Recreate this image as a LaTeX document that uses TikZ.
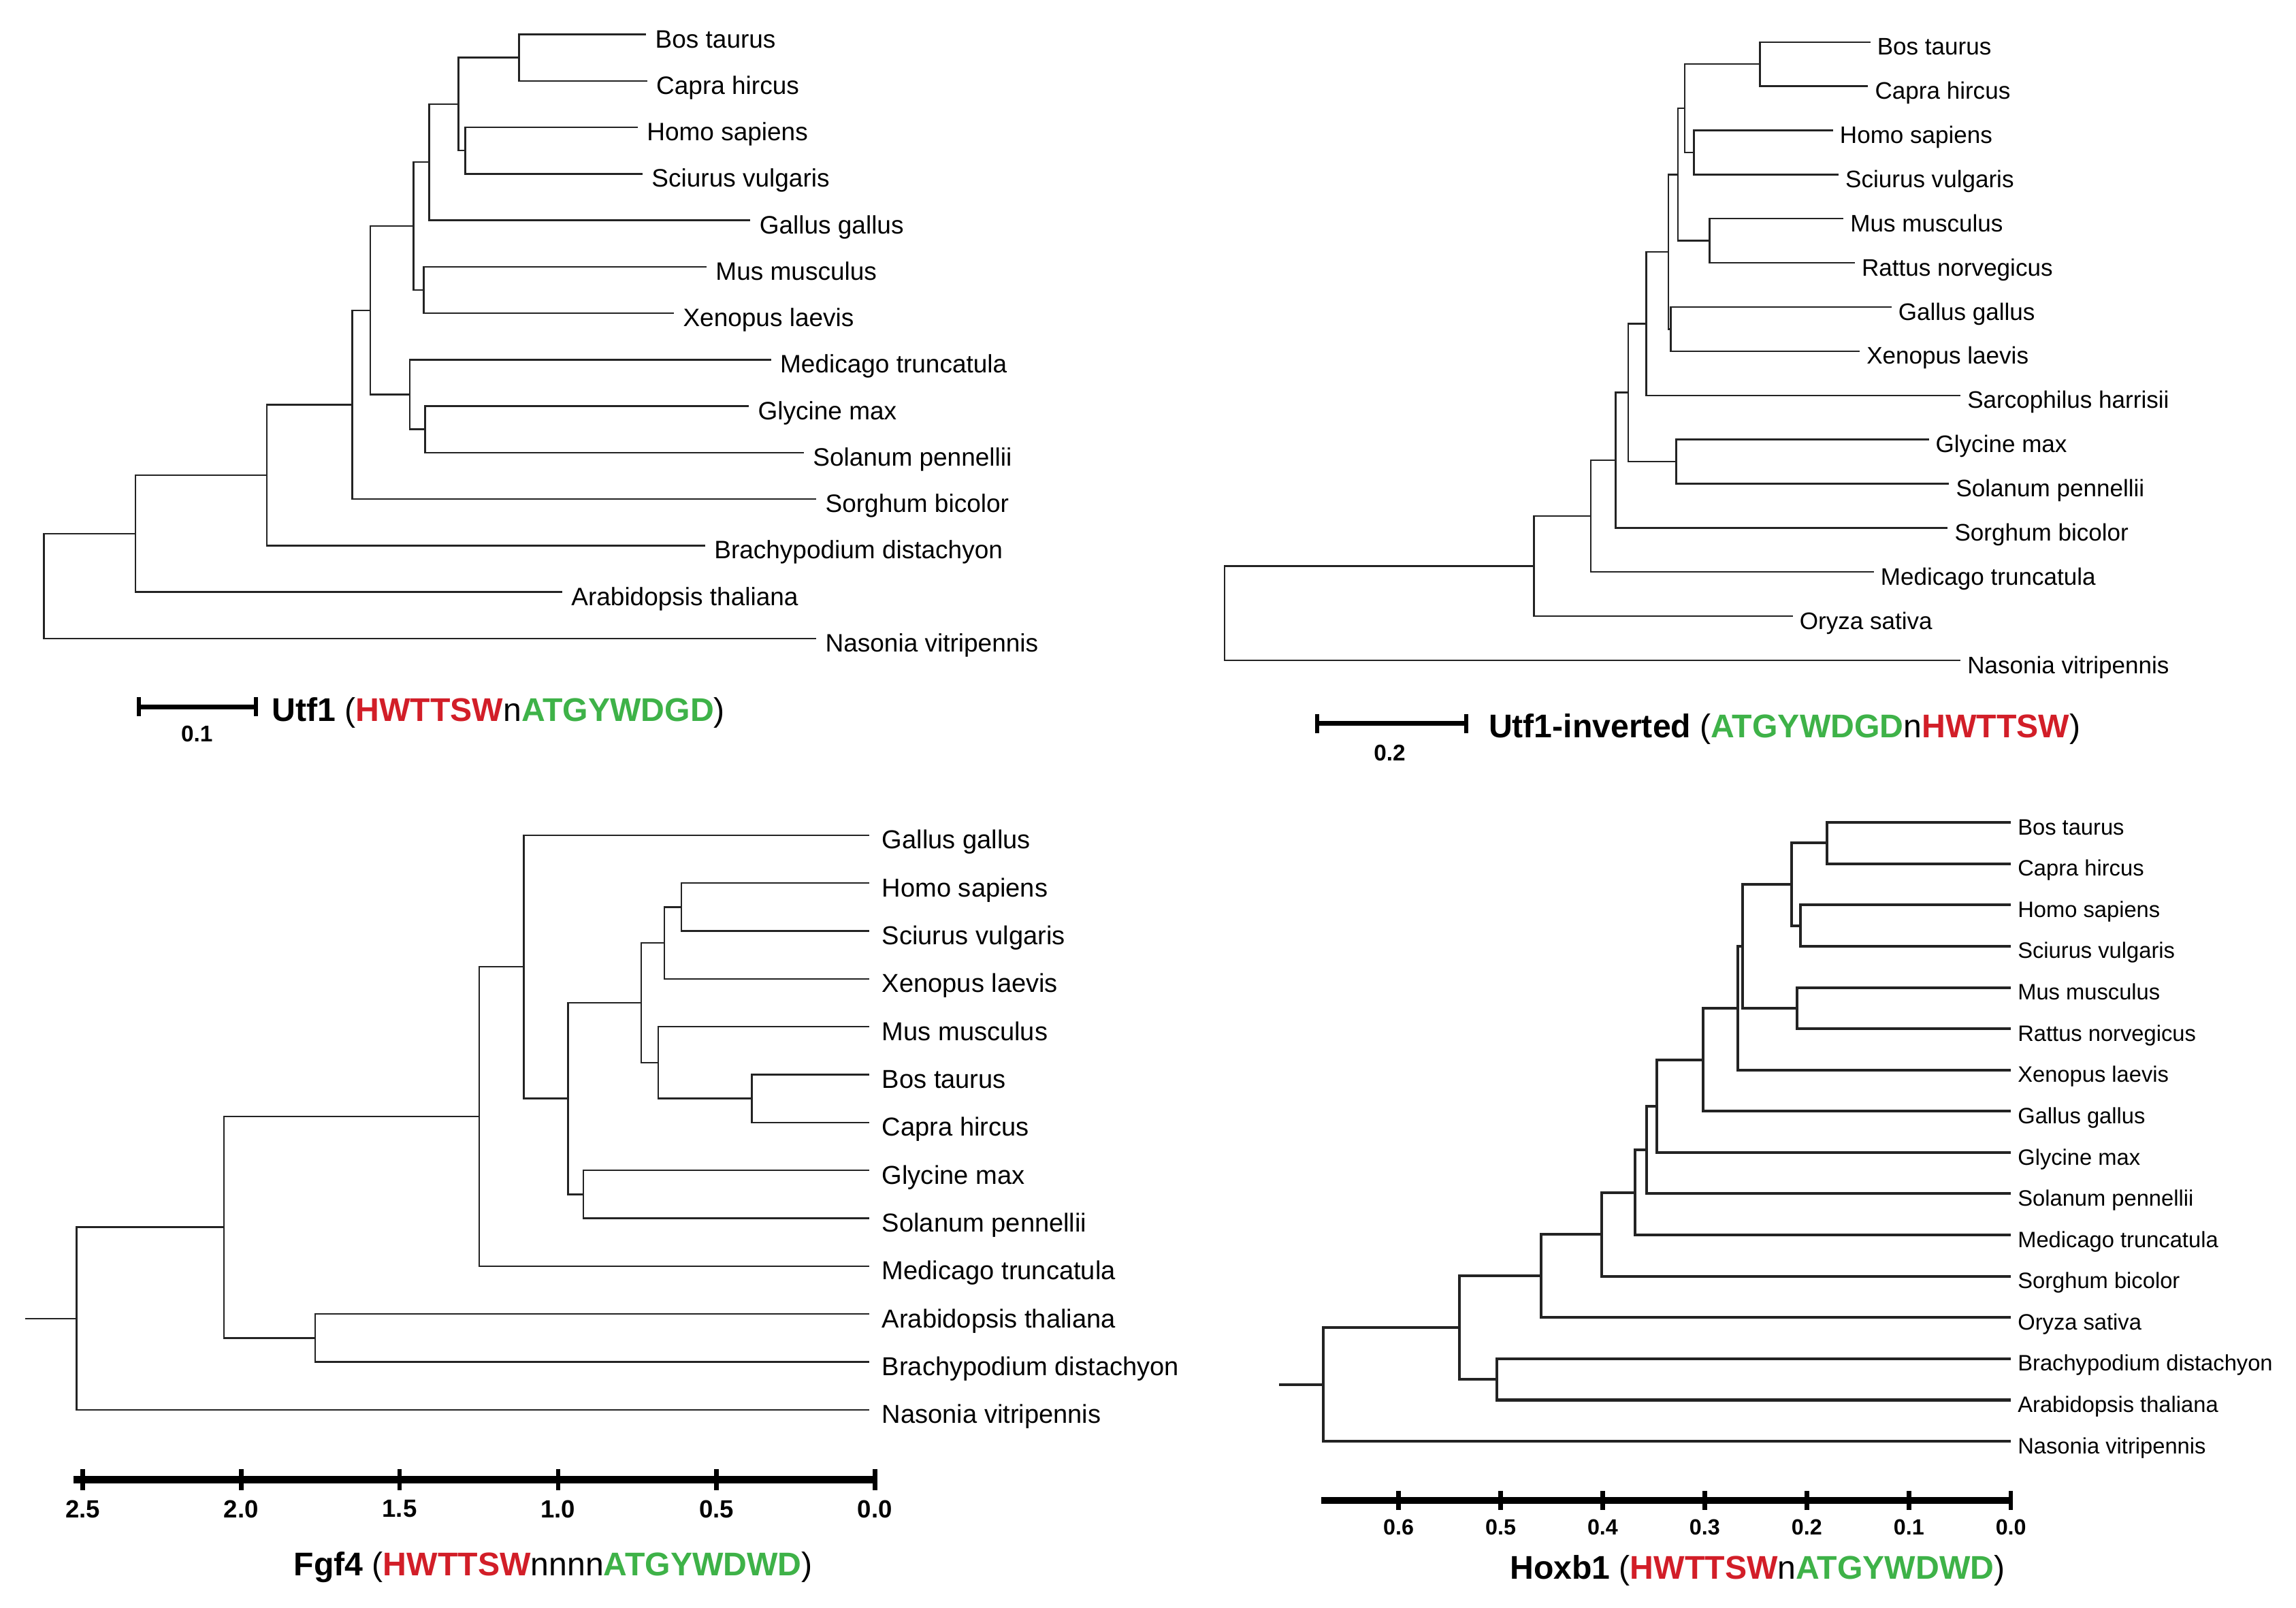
\documentclass[tikz,border=0pt]{standalone}
\usepackage{fontspec}
\setmainfont{Liberation Sans}
\definecolor{motifred}{RGB}{210,30,40}
\definecolor{motifgreen}{RGB}{62,178,72}
\definecolor{branch}{RGB}{35,35,35}
\begin{document}
\begin{tikzpicture}[x=1pt,y=-1pt,
  leafbase/.style={anchor=west, inner sep=0pt, text depth=0pt},
  leafA/.style={leafbase, font=\fontsize{17.2}{20}\selectfont, text height=18.2pt},
  leafB/.style={leafbase, font=\fontsize{16.3}{19}\selectfont, text height=17.6pt},
  leafC/.style={leafbase, font=\fontsize{17.7}{20}\selectfont, text height=18.6pt},
  leafD/.style={leafbase, font=\fontsize{15.2}{18}\selectfont, text height=16.8pt},
  edgeT/.style={draw=branch, line width=1.15pt},
  edgeK/.style={draw=branch, line width=1.9pt},
  tipA/.style={edgeT, shorten >=6pt},
  tipB/.style={edgeT, shorten >=4.5pt},
  tipC/.style={edgeT, shorten >=8.5pt},
  tipD/.style={edgeK, shorten >=4.5pt},
  titlelab/.style={anchor=base west, inner sep=0pt, font=\fontsize{22.4}{26}\selectfont},
  sbbar/.style={draw=black, line width=3.4pt},
  sbtick/.style={draw=black, line width=2.8pt},
  axbar/.style={draw=black, line width=5pt},
  axtick/.style={draw=black, line width=3pt},
  sblab/.style={inner sep=0pt, font=\fontsize{15.5}{18}\selectfont\bfseries},
  axlabC/.style={inner sep=0pt, font=\fontsize{17}{19}\selectfont\bfseries},
  axlabD/.style={inner sep=0pt, font=\fontsize{15}{17}\selectfont\bfseries}
]
\fill[white] (0,0) rectangle (1568,1098);
\useasboundingbox (0,0) rectangle (1568,1098);

%% ---------------- Tree 1: Utf1 ----------------
\node[leafA] (aBos) at (447.3,23.5) {Bos taurus};
\node[leafA] (aCap) at (448.0,55.2) {Capra hircus};
\node[leafA] (aHom) at (441.6,87.0) {Homo sapiens};
\node[leafA] (aSci) at (444.9,118.7) {Sciurus vulgaris};
\node[leafA] (aGal) at (518.5,150.4) {Gallus gallus};
\node[leafA] (aMus) at (488.6,182.2) {Mus musculus};
\node[leafA] (aXen) at (466.3,213.9) {Xenopus laevis};
\node[leafA] (aMed) at (532.6,245.6) {Medicago truncatula};
\node[leafA] (aGly) at (517.5,277.3) {Glycine max};
\node[leafA] (aSol) at (555.0,309.1) {Solanum pennellii};
\node[leafA] (aSor) at (563.5,340.8) {Sorghum bicolor};
\node[leafA] (aBra) at (487.6,372.5) {Brachypodium distachyon};
\node[leafA] (aAra) at (390.0,404.3) {Arabidopsis thaliana};
\node[leafA] (aNas) at (563.5,436.0) {Nasonia vitripennis};
\coordinate (a1) at (354.4,39.35);
\coordinate (a2) at (317.8,102.85);
\coordinate (a3) at (313.1,71.1);
\coordinate (a4) at (293.2,110.75);
\coordinate (a5) at (289.4,198.05);
\coordinate (a6) at (282.3,154.4);
\coordinate (a7) at (290.3,293.2);
\coordinate (a8) at (279.9,269.4);
\coordinate (a9) at (252.9,211.9);
\coordinate (a10) at (240.5,276.35);
\coordinate (a11) at (182.2,324.4);
\coordinate (a12) at (92.5,364.35);
\coordinate (a13) at (29.9,400.2);
\draw[tipA] (a1) |- (aBos.west);
\draw[tipA] (a1) |- (aCap.west);
\draw[tipA] (a2) |- (aHom.west);
\draw[tipA] (a2) |- (aSci.west);
\draw[edgeT] (a3) |- (a1);
\draw[edgeT] (a3) |- (a2);
\draw[edgeT] (a4) |- (a3);
\draw[tipA] (a4) |- (aGal.west);
\draw[tipA] (a5) |- (aMus.west);
\draw[tipA] (a5) |- (aXen.west);
\draw[edgeT] (a6) |- (a4);
\draw[edgeT] (a6) |- (a5);
\draw[tipA] (a7) |- (aGly.west);
\draw[tipA] (a7) |- (aSol.west);
\draw[tipA] (a8) |- (aMed.west);
\draw[edgeT] (a8) |- (a7);
\draw[edgeT] (a9) |- (a6);
\draw[edgeT] (a9) |- (a8);
\draw[edgeT] (a10) |- (a9);
\draw[tipA] (a10) |- (aSor.west);
\draw[edgeT] (a11) |- (a10);
\draw[tipA] (a11) |- (aBra.west);
\draw[edgeT] (a12) |- (a11);
\draw[tipA] (a12) |- (aAra.west);
\draw[edgeT] (a13) |- (a12);
\draw[tipA] (a13) |- (aNas.west);
% scale bar
\coordinate (sb1L) at (94.9,482.6);
\coordinate (sb1R) at (174.6,482.6);
\draw[sbbar] (sb1L) -- (sb1R);
\draw[sbtick] ([yshift=-6.5pt]sb1L) -- ([yshift=6.5pt]sb1L);
\draw[sbtick] ([yshift=-6.5pt]sb1R) -- ([yshift=6.5pt]sb1R);
\node[sblab] (sb1lab) at (134.5,501) {0.1};
\node[titlelab] (title1) at (185.5,492.4) {\textbf{Utf1} (\textcolor{motifred}{\textbf{HWTTSW}}n\textcolor{motifgreen}{\textbf{ATGYWDGD}})};

%% ---------------- Tree 2: Utf1-inverted ----------------
\node[leafB] (bBos) at (1281.8,28.7) {Bos taurus};
\node[leafB] (bCap) at (1280.3,58.9) {Capra hircus};
\node[leafB] (bHom) at (1256.3,89.0) {Homo sapiens};
\node[leafB] (bSci) at (1260.1,119.2) {Sciurus vulgaris};
\node[leafB] (bMus) at (1263.5,149.3) {Mus musculus};
\node[leafB] (bRat) at (1271.2,179.5) {Rattus norvegicus};
\node[leafB] (bGal) at (1296.2,209.7) {Gallus gallus};
\node[leafB] (bXen) at (1274.6,239.8) {Xenopus laevis};
\node[leafB] (bSar) at (1343.4,270.0) {Sarcophilus harrisii};
\node[leafB] (bGly) at (1321.7,300.1) {Glycine max};
\node[leafB] (bSol) at (1335.6,330.3) {Solanum pennellii};
\node[leafB] (bSor) at (1334.7,360.5) {Sorghum bicolor};
\node[leafB] (bMed) at (1284.2,390.6) {Medicago truncatula};
\node[leafB] (bOry) at (1228.8,420.8) {Oryza sativa};
\node[leafB] (bNas) at (1343.4,451.0) {Nasonia vitripennis};
\coordinate (b1) at (1201.9,43.8);
\coordinate (b2) at (1156.7,104.1);
\coordinate (b3) at (1150.6,73.95);
\coordinate (b4) at (1167.5,164.4);
\coordinate (b5) at (1145.8,119.2);
\coordinate (b6) at (1140.9,224.75);
\coordinate (b7) at (1139.4,171.95);
\coordinate (b8) at (1124.2,220.98);
\coordinate (b9) at (1144.7,315.2);
\coordinate (b10) at (1111.9,268.1);
\coordinate (b11) at (1103.3,314.3);
\coordinate (b12) at (1086.4,352.45);
\coordinate (b13) at (1047.5,386.6);
\coordinate (b14) at (836.2,418.8);
\draw[tipB] (b1) |- (bBos.west);
\draw[tipB] (b1) |- (bCap.west);
\draw[tipB] (b2) |- (bHom.west);
\draw[tipB] (b2) |- (bSci.west);
\draw[edgeT] (b3) |- (b1);
\draw[edgeT] (b3) |- (b2);
\draw[tipB] (b4) |- (bMus.west);
\draw[tipB] (b4) |- (bRat.west);
\draw[edgeT] (b5) |- (b3);
\draw[edgeT] (b5) |- (b4);
\draw[tipB] (b6) |- (bGal.west);
\draw[tipB] (b6) |- (bXen.west);
\draw[edgeT] (b7) |- (b5);
\draw[edgeT] (b7) |- (b6);
\draw[edgeT] (b8) |- (b7);
\draw[tipB] (b8) |- (bSar.west);
\draw[tipB] (b9) |- (bGly.west);
\draw[tipB] (b9) |- (bSol.west);
\draw[edgeT] (b10) |- (b8);
\draw[edgeT] (b10) |- (b9);
\draw[edgeT] (b11) |- (b10);
\draw[tipB] (b11) |- (bSor.west);
\draw[edgeT] (b12) |- (b11);
\draw[tipB] (b12) |- (bMed.west);
\draw[edgeT] (b13) |- (b12);
\draw[tipB] (b13) |- (bOry.west);
\draw[edgeT] (b14) |- (b13);
\draw[tipB] (b14) |- (bNas.west);
% scale bar
\coordinate (sb2L) at (899.3,494.0);
\coordinate (sb2R) at (1001.3,494.0);
\draw[sbbar] (sb2L) -- (sb2R);
\draw[sbtick] ([yshift=-6.5pt]sb2L) -- ([yshift=6.5pt]sb2L);
\draw[sbtick] ([yshift=-6.5pt]sb2R) -- ([yshift=6.5pt]sb2R);
\node[sblab] (sb2lab) at (949,514) {0.2};
\node[titlelab] (title2) at (1016.5,503.5) {\textbf{Utf1-inverted} (\textcolor{motifgreen}{\textbf{ATGYWDGD}}n\textcolor{motifred}{\textbf{HWTTSW}})};

%% ---------------- Tree 3: Fgf4 ----------------
\node[leafC] (cGal) at (602.2,570.3) {Gallus gallus};
\node[leafC] (cHom) at (602.2,603.0) {Homo sapiens};
\node[leafC] (cSci) at (602.2,635.7) {Sciurus vulgaris};
\node[leafC] (cXen) at (602.2,668.4) {Xenopus laevis};
\node[leafC] (cMus) at (602.2,701.1) {Mus musculus};
\node[leafC] (cBos) at (602.2,733.8) {Bos taurus};
\node[leafC] (cCap) at (602.2,766.5) {Capra hircus};
\node[leafC] (cGly) at (602.2,799.2) {Glycine max};
\node[leafC] (cSol) at (602.2,831.9) {Solanum pennellii};
\node[leafC] (cMed) at (602.2,864.6) {Medicago truncatula};
\node[leafC] (cAra) at (602.2,897.3) {Arabidopsis thaliana};
\node[leafC] (cBra) at (602.2,930.0) {Brachypodium distachyon};
\node[leafC] (cNas) at (602.2,962.7) {Nasonia vitripennis};
\coordinate (c1) at (465.4,619.35);
\coordinate (c2) at (453.8,643.9);
\coordinate (c3) at (513.5,750.15);
\coordinate (c4) at (449.6,725.6);
\coordinate (c5) at (438.0,684.75);
\coordinate (c6) at (398.4,815.55);
\coordinate (c7) at (387.9,750.15);
\coordinate (c8) at (357.8,660.2);
\coordinate (c9) at (327.2,762.4);
\coordinate (c10) at (215.3,913.65);
\coordinate (c11) at (153.0,838.0);
\coordinate (c12) at (52.2,900.35);
\coordinate (c0) at (17.4,900.35);
\draw[tipC] (c1) |- (cHom.west);
\draw[tipC] (c1) |- (cSci.west);
\draw[edgeT] (c2) |- (c1);
\draw[tipC] (c2) |- (cXen.west);
\draw[tipC] (c3) |- (cBos.west);
\draw[tipC] (c3) |- (cCap.west);
\draw[tipC] (c4) |- (cMus.west);
\draw[edgeT] (c4) |- (c3);
\draw[edgeT] (c5) |- (c2);
\draw[edgeT] (c5) |- (c4);
\draw[tipC] (c6) |- (cGly.west);
\draw[tipC] (c6) |- (cSol.west);
\draw[edgeT] (c7) |- (c5);
\draw[edgeT] (c7) |- (c6);
\draw[tipC] (c8) |- (cGal.west);
\draw[edgeT] (c8) |- (c7);
\draw[edgeT] (c9) |- (c8);
\draw[tipC] (c9) |- (cMed.west);
\draw[tipC] (c10) |- (cAra.west);
\draw[tipC] (c10) |- (cBra.west);
\draw[edgeT] (c11) |- (c9);
\draw[edgeT] (c11) |- (c10);
\draw[edgeT] (c12) |- (c11);
\draw[tipC] (c12) |- (cNas.west);
\draw[edgeT] (c0) -- (c12);
% axis
\coordinate (ax3L) at (50.2,1010.4);
\coordinate (ax3R) at (598.9,1010.4);
\draw[axbar] (ax3L) -- (ax3R);
\foreach \xx/\ll [count=\i] in {56.5/2.5, 164.7/2.0, 272.9/1.5, 381.1/1.0, 489.3/0.5, 597.5/0.0}{
  \draw[axtick] (\xx,1003.2) -- (\xx,1017.6);
  \node[axlabC] (axC\i) at (\xx,1030.4) {\ll};
}
\node[titlelab] (title3) at (200.5,1076.0) {\textbf{Fgf4} (\textcolor{motifred}{\textbf{HWTTSW}}nnnn\textcolor{motifgreen}{\textbf{ATGYWDWD}})};

%% ---------------- Tree 4: Hoxb1 ----------------
\node[leafD] (dBos) at (1377.8,561.6) {Bos taurus};
\node[leafD] (dCap) at (1377.8,589.8) {Capra hircus};
\node[leafD] (dHom) at (1377.8,617.9) {Homo sapiens};
\node[leafD] (dSci) at (1377.8,646.1) {Sciurus vulgaris};
\node[leafD] (dMus) at (1377.8,674.3) {Mus musculus};
\node[leafD] (dRat) at (1377.8,702.5) {Rattus norvegicus};
\node[leafD] (dXen) at (1377.8,730.6) {Xenopus laevis};
\node[leafD] (dGal) at (1377.8,758.8) {Gallus gallus};
\node[leafD] (dGly) at (1377.8,787.0) {Glycine max};
\node[leafD] (dSol) at (1377.8,815.1) {Solanum pennellii};
\node[leafD] (dMed) at (1377.8,843.3) {Medicago truncatula};
\node[leafD] (dSor) at (1377.8,871.5) {Sorghum bicolor};
\node[leafD] (dOry) at (1377.8,899.6) {Oryza sativa};
\node[leafD] (dBra) at (1377.8,927.8) {Brachypodium distachyon};
\node[leafD] (dAra) at (1377.8,956.0) {Arabidopsis thaliana};
\node[leafD] (dNas) at (1377.8,984.2) {Nasonia vitripennis};
\coordinate (d1) at (1247.6,575.7);
\coordinate (d2) at (1229.6,632.0);
\coordinate (d3) at (1223.6,603.85);
\coordinate (d4) at (1227.3,688.4);
\coordinate (d5) at (1190.0,646.1);
\coordinate (d6) at (1186.8,688.35);
\coordinate (d7) at (1162.9,723.6);
\coordinate (d8) at (1131.5,755.3);
\coordinate (d9) at (1124.6,785.2);
\coordinate (d10) at (1116.8,814.25);
\coordinate (d11) at (1093.8,842.9);
\coordinate (d12) at (1052.4,871.25);
\coordinate (d13) at (1022.4,941.9);
\coordinate (d14) at (996.7,906.6);
\coordinate (d15) at (903.6,945.4);
\coordinate (d0) at (873.7,945.4);
\draw[tipD] (d1) |- (dBos.west);
\draw[tipD] (d1) |- (dCap.west);
\draw[tipD] (d2) |- (dHom.west);
\draw[tipD] (d2) |- (dSci.west);
\draw[edgeK] (d3) |- (d1);
\draw[edgeK] (d3) |- (d2);
\draw[tipD] (d4) |- (dMus.west);
\draw[tipD] (d4) |- (dRat.west);
\draw[edgeK] (d5) |- (d3);
\draw[edgeK] (d5) |- (d4);
\draw[edgeK] (d6) |- (d5);
\draw[tipD] (d6) |- (dXen.west);
\draw[edgeK] (d7) |- (d6);
\draw[tipD] (d7) |- (dGal.west);
\draw[edgeK] (d8) |- (d7);
\draw[tipD] (d8) |- (dGly.west);
\draw[edgeK] (d9) |- (d8);
\draw[tipD] (d9) |- (dSol.west);
\draw[edgeK] (d10) |- (d9);
\draw[tipD] (d10) |- (dMed.west);
\draw[edgeK] (d11) |- (d10);
\draw[tipD] (d11) |- (dSor.west);
\draw[edgeK] (d12) |- (d11);
\draw[tipD] (d12) |- (dOry.west);
\draw[tipD] (d13) |- (dBra.west);
\draw[tipD] (d13) |- (dAra.west);
\draw[edgeK] (d14) |- (d12);
\draw[edgeK] (d14) |- (d13);
\draw[edgeK] (d15) |- (d14);
\draw[tipD] (d15) |- (dNas.west);
\draw[edgeK] (d0) -- (d15);
% axis
\coordinate (ax4L) at (902.3,1024.5);
\coordinate (ax4R) at (1374.6,1024.5);
\draw[axbar] (ax4L) -- (ax4R);
\foreach \xx/\ll [count=\i] in {955.1/0.6, 1024.8/0.5, 1094.5/0.4, 1164.2/0.3, 1233.9/0.2, 1303.6/0.1, 1373.3/0.0}{
  \draw[axtick] (\xx,1018.0) -- (\xx,1031.0);
  \node[axlabD] (axD\i) at (\xx,1042.9) {\ll};
}
\node[titlelab] (title4) at (1031.0,1078.2) {\textbf{Hoxb1} (\textcolor{motifred}{\textbf{HWTTSW}}n\textcolor{motifgreen}{\textbf{ATGYWDWD}})};
\end{tikzpicture}
\end{document}
